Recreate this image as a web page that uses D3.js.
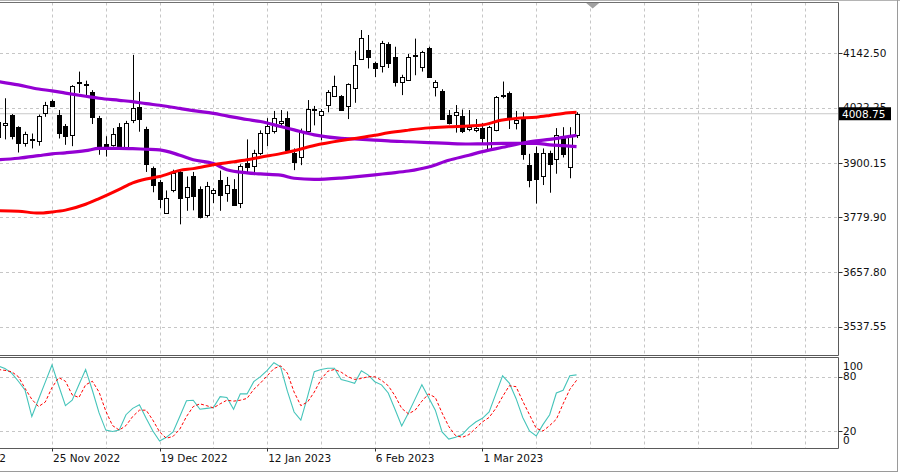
<!DOCTYPE html>
<html><head><meta charset="utf-8">
<script src="https://cdn.jsdelivr.net/npm/d3@7"></script>
<style>html,body{margin:0;padding:0;background:#fff}svg{display:block}text{font-family:"DejaVu Sans",sans-serif;font-size:10.5px}</style>
</head><body><div id="chart"></div>
<script>
// ---------- data ----------
const dates = ["2022-11-14","2022-11-15","2022-11-16","2022-11-17","2022-11-18","2022-11-21","2022-11-22","2022-11-23","2022-11-25","2022-11-28","2022-11-29","2022-11-30","2022-12-01","2022-12-02","2022-12-05","2022-12-06","2022-12-07","2022-12-08","2022-12-09","2022-12-12","2022-12-13","2022-12-14","2022-12-15","2022-12-16","2022-12-19","2022-12-20","2022-12-21","2022-12-22","2022-12-23","2022-12-27","2022-12-28","2022-12-29","2022-12-30","2023-01-03","2023-01-04","2023-01-05","2023-01-06","2023-01-09","2023-01-10","2023-01-11","2023-01-12","2023-01-13","2023-01-17","2023-01-18","2023-01-19","2023-01-20","2023-01-23","2023-01-24","2023-01-25","2023-01-26","2023-01-27","2023-01-30","2023-01-31","2023-02-01","2023-02-02","2023-02-03","2023-02-06","2023-02-07","2023-02-08","2023-02-09","2023-02-10","2023-02-13","2023-02-14","2023-02-15","2023-02-16","2023-02-17","2023-02-21","2023-02-22","2023-02-23","2023-02-24","2023-02-27","2023-02-28","2023-03-01","2023-03-02","2023-03-03","2023-03-06","2023-03-07","2023-03-08","2023-03-09","2023-03-10","2023-03-13","2023-03-14","2023-03-15","2023-03-16","2023-03-17","2023-03-20","2023-03-21"];
const open  = [3990,3984,4006,3979,3945,3952,3949,4010,4036,4006,3982,3961,4080,4074,4056,4000,3941,3940,3980,3935,3995,4023,3974,3888,3858,3790,3840,3880,3824,3872,3842,3784,3834,3862,3834,3842,3811,3899,3893,3921,3967,3970,3989,3999,3921,3914,3971,4018,4006,4028,4049,4047,4026,4065,4129,4150,4120,4114,4162,4135,4080,4083,4137,4113,4154,4069,4058,4006,4006,4004,3976,3972,3978,3929,3973,4047,4055,3989,3999,3895,3921,3871,3923,3908,3960,3892,3962];
const high  = [4008,4043,4008,3981,3969,3965,4007,4035,4040,4017,3986,4072,4102,4082,4061,4004,3959,3977,3988,3993,4139,4057,3980,3892,3862,3839,3885,3885,3870,3880,3848,3858,3844,3883,3869,3864,3897,3952,3929,3972,3999,4015,4017,4014,3932,3976,4039,4026,4019,4061,4093,4050,4076,4148,4194,4183,4124,4170,4167,4157,4095,4141,4175,4148,4157,4083,4063,4017,4028,4018,4017,3997,3988,3982,4048,4080,4058,4015,4012,3920,3936,3932,3927,3977,3979,3979,4012];
const low   = [3950,3952,3952,3923,3936,3932,3938,4002,4024,3954,3940,3937,4055,4050,3986,3918,3914,3936,3935,3934,3988,3969,3880,3835,3800,3787,3835,3764,3794,3795,3777,3779,3811,3794,3814,3805,3800,3876,3873,3917,3937,3965,3980,3925,3884,3895,3969,3983,3950,4012,4046,4015,3997,4033,4128,4109,4090,4100,4110,4069,4050,4082,4094,4102,4090,4047,3995,3985,3967,3966,3970,3968,3943,3927,3970,4043,3975,3974,3907,3846,3810,3851,3834,3876,3912,3866,3955];
const close = [3957,3989,3960,3943,3963,3950.5,4004,4028,4026.5,3967,3960,4071,4077.5,4072,4002,3937,3934,3963,3936,3989,4021,3997,3898,3852,3820,3822,3878,3822,3847,3827,3781,3849,3839,3829,3850,3807,3893,3892,3921,3967,3981.5,4000,3993,3928.5,3903,3969,4019,4019,4015.5,4057.5,4070,4017,4074,4116.6,4175.7,4135,4109.3,4166,4120,4080,4090.7,4135,4139,4144.7,4090.7,4079.7,3996.5,3987.5,4013,3969.5,3980,3978,3954.4,3980,4046.5,4050,3996.5,3996,3920,3862,3864,3921,3897.5,3961.7,3920,3961.7,4008.75];

// moving averages, read at sampled bars (bar number counted from first date)
const maBars   = [0,3,6,8,10,13,15,18,20,22,24,27,29,32,34,37,39,42,44,47,51,53,56,58,61,64,67,70,72,75,77,80,82,84,86];
const maRed    = [3794,3793,3789,3791.4,3795.5,3808.5,3821,3841.5,3856,3864.5,3870,3883.5,3887.3,3895.7,3900.3,3907,3912.6,3920.5,3927,3938.5,3949.5,3954,3961,3966.5,3972.5,3977.5,3980,3981.8,3984,3994.8,3998.5,4001,4005,4009.5,4012];
const maPurpleA= [4080,4072.5,4063.5,4059.5,4054.5,4047.5,4043,4038.5,4035.5,4031,4027.5,4020.5,4015.5,4009.5,4004,3996,3991.5,3980.5,3973,3962,3954.3,3952.9,3950.5,3948.6,3946.8,3945,3943,3941.8,3942,3943.3,3943.4,3943.3,3940,3938,3936];
const maPurpleB= [3907,3910.3,3916,3920,3922.3,3927,3932,3932.3,3931.4,3930.2,3929,3917,3907,3898.5,3885,3878,3875.5,3873,3866,3863.5,3866.5,3869,3873.5,3877,3882,3891,3906,3917,3925,3934.5,3941,3949,3952,3956.5,3961];

// stochastic oscillator
const stochK = [92,89,84,75,65,36,55,74,93,70,48,54,71,88,65,40,21,19.5,21,38,45,49,34,20,9,13,19,36,53.5,54,44,45,46,58,57,44,61,61,74.5,80,87,95.5,91,64,41,32,58,85.5,88,89.3,89.3,77,75,72.7,86.6,82,74.5,71,62,44,25.5,40,55.5,71,57,43,19,11,13,16,24,30,34,41,61,81,73,56,35,20,14.5,27,38,62,65,81,82];
const stochD = [88,87,85.5,80,67,55,47,52,68,79,75,60,57,71,75,63,42,26,21,26,36,43,43,32,19,12,14,22,36,47,50,48,45.5,50,54,53,54,56,66,73,81,89,92,84,63,48,52,63,77,86,88,85,80,77,78,80,80,76,70,59,45,39,43,53,61,57,40,25,15,13,16,23,30,35,45,58,70,69,53,38,23,20,26,33,50,66,76];

// axis ticks
const priceTicks = [4142.50, 4022.25, 3900.15, 3779.90, 3657.80, 3537.55];
const stochTicks = [100, 80, 20, 0];
const stochGrid  = [80, 20];
const dateLabels = ["2 Nov 2022","25 Nov 2022","19 Dec 2022","12 Jan 2023","6 Feb 2023","1 Mar 2023"];
const dateLabelBars = [-8, 8, 24, 40, 56, 72];
const lastPrice = 4008.75;
const shiftBar = 88.4;   // chart-shift marker position (in bars)

// ---------- layout ----------
const W = 900, H = 474;
const plotR = 838.5;
const mainTop = 2.5, mainBot = 355.5;
const stTop = 357.5, stBot = 448.5;

const svg = d3.select("#chart").append("svg").attr("width", W).attr("height", H);
svg.append("rect").attr("width", W).attr("height", H).attr("fill", "#fff");

const x = d3.scaleLinear().domain([8, 120]).range([52, 805.2]);
const y = d3.scaleLinear().domain([3537.55, 4142.50]).range([326.7, 53.3]);
const ys = d3.scaleLinear().domain([20, 80]).range([431, 376.7]);

const defs = svg.append("defs");
defs.append("clipPath").attr("id","cm").append("rect").attr("x",0).attr("y",mainTop).attr("width",plotR).attr("height",mainBot-mainTop);
defs.append("clipPath").attr("id","cs").append("rect").attr("x",0).attr("y",stTop).attr("width",plotR).attr("height",stBot-stTop);

const gridCol = "#c6c6c6";
const px = v => Math.round(v) + 0.5;

// vertical grid bars
const gridBars = d3.range(0, 128, 8).filter(b => x(b) > 0 && x(b) < plotR - 2);
[[mainTop, mainBot],[stTop, stBot]].forEach(([t,b]) => {
  svg.append("g").selectAll("line").data(gridBars).join("line")
    .attr("x1", d => px(x(d))).attr("x2", d => px(x(d)))
    .attr("y1", t).attr("y2", b)
    .attr("stroke", gridCol).attr("stroke-dasharray","3,3");
});
// horizontal grid main
svg.append("g").selectAll("line").data(priceTicks).join("line")
  .attr("x1", 0).attr("x2", plotR).attr("y1", d => px(y(d))).attr("y2", d => px(y(d)))
  .attr("stroke", gridCol).attr("stroke-dasharray","3,3");
svg.append("g").selectAll("line").data(stochGrid).join("line")
  .attr("x1", 0).attr("x2", plotR).attr("y1", d => px(ys(d))).attr("y2", d => px(ys(d)))
  .attr("stroke", gridCol).attr("stroke-dasharray","3,3");

// current price line
svg.append("line").attr("x1",0).attr("x2",plotR).attr("y1",y(lastPrice)).attr("y2",y(lastPrice))
  .attr("stroke","#c8c8c8").attr("stroke-width",1);

// candles
const bars = d3.range(dates.length);
const gc = svg.append("g").attr("clip-path","url(#cm)");
gc.selectAll("line.w").data(bars).join("line").attr("class","w")
  .attr("x1", d => Math.round(x(d))+0.5).attr("x2", d => Math.round(x(d))+0.5)
  .attr("y1", d => y(high[d])).attr("y2", d => y(low[d]))
  .attr("stroke","#000").attr("stroke-width",1);
gc.selectAll("rect.b").data(bars).join("rect").attr("class","b")
  .attr("x", d => Math.round(x(d))-1.5).attr("width", 4)
  .attr("y", d => Math.round(y(Math.max(open[d],close[d])))+0.5)
  .attr("height", d => Math.max(1, Math.round(y(Math.min(open[d],close[d]))) - Math.round(y(Math.max(open[d],close[d])))))
  .attr("fill", d => close[d] >= open[d] ? "#fff" : "#000")
  .attr("stroke","#000").attr("stroke-width",1);

// moving averages
const maLine = vals => d3.line().x((d,i) => x(maBars[i])).y(d => y(d)).curve(d3.curveMonotoneX)(vals);
gc.append("path").attr("d", maLine(maPurpleB)).attr("fill","none").attr("stroke","#9400d3").attr("stroke-width",3.2);
gc.append("path").attr("d", maLine(maPurpleA)).attr("fill","none").attr("stroke","#9400d3").attr("stroke-width",3.2);
gc.append("path").attr("d", maLine(maRed)).attr("fill","none").attr("stroke","#ff0000").attr("stroke-width",3);

// stochastic
const gs = svg.append("g").attr("clip-path","url(#cs)");
gs.append("path").attr("d", d3.line().x((d,i)=>x(i)).y(d=>ys(d))(stochK))
  .attr("fill","none").attr("stroke","#45c4ba").attr("stroke-width",1.1);
gs.append("path").attr("d", d3.line().x((d,i)=>x(i)).y(d=>ys(d))(stochD))
  .attr("fill","none").attr("stroke","#ff0000").attr("stroke-width",1).attr("stroke-dasharray","3,2");

// frames
const frameCol = "#5a5a5a";
svg.append("line").attr("x1",0).attr("x2",900).attr("y1",0.5).attr("y2",0.5).attr("stroke","#b4b4b4");
svg.append("line").attr("x1",0).attr("x2",plotR).attr("y1",mainTop).attr("y2",mainTop).attr("stroke","#707070").attr("stroke-width",1.2);
svg.append("line").attr("x1",0).attr("x2",plotR).attr("y1",mainBot).attr("y2",mainBot).attr("stroke",frameCol);
svg.append("line").attr("x1",plotR).attr("x2",plotR).attr("y1",mainTop).attr("y2",mainBot).attr("stroke",frameCol);
svg.append("line").attr("x1",0).attr("x2",plotR).attr("y1",stTop).attr("y2",stTop).attr("stroke",frameCol);
svg.append("line").attr("x1",0).attr("x2",plotR).attr("y1",stBot).attr("y2",stBot).attr("stroke",frameCol);
svg.append("line").attr("x1",plotR).attr("x2",plotR).attr("y1",stTop).attr("y2",stBot).attr("stroke",frameCol);
svg.append("line").attr("x1",897.5).attr("x2",897.5).attr("y1",0).attr("y2",472).attr("stroke","#9a9a9a");
svg.append("line").attr("x1",0).attr("x2",898).attr("y1",471.5).attr("y2",471.5).attr("stroke","#9a9a9a");

// shift marker
const mx = x(shiftBar);
svg.append("path").attr("d", `M${mx-6.5},3 L${mx+6.5},3 L${mx},8.5 Z`).attr("fill","#a0a0a0");

// price axis
svg.append("g").selectAll("line").data(priceTicks).join("line")
  .attr("x1", plotR).attr("x2", plotR+4).attr("y1", d => px(y(d))).attr("y2", d => px(y(d))).attr("stroke","#333");
svg.append("g").selectAll("text").data(priceTicks).join("text")
  .attr("x", 843).attr("y", d => y(d)).attr("dy","0.36em").attr("fill","#111")
  .text(d => d.toFixed(2));
// current price tag
const ty = y(lastPrice);
svg.append("rect").attr("x",839).attr("y",ty-6.5).attr("width",52).attr("height",13).attr("fill","#000");
svg.append("text").attr("x",842).attr("y",ty).attr("dy","0.36em").attr("fill","#fff").text(lastPrice.toFixed(2));

// stochastic axis
svg.append("g").selectAll("line").data(stochGrid).join("line")
  .attr("x1", plotR).attr("x2", plotR+4).attr("y1", d => px(ys(d))).attr("y2", d => px(ys(d))).attr("stroke","#333");
svg.append("g").selectAll("text").data(stochTicks).join("text")
  .attr("x", 843).attr("y", d => Math.min(stBot-8, Math.max(stTop+9, ys(d)))).attr("dy","0.36em").attr("fill","#111")
  .text(d => d);

// date axis
svg.append("g").selectAll("line").data(dateLabelBars).join("line")
  .attr("x1", d => px(x(d))).attr("x2", d => px(x(d))).attr("y1", stBot).attr("y2", stBot+3).attr("stroke","#333");
svg.append("g").selectAll("text").data(dateLabels).join("text")
  .attr("x", (d,i) => x(dateLabelBars[i]) + 1).attr("y", 462).attr("fill","#111")
  .text(d => d);
</script></body></html>
